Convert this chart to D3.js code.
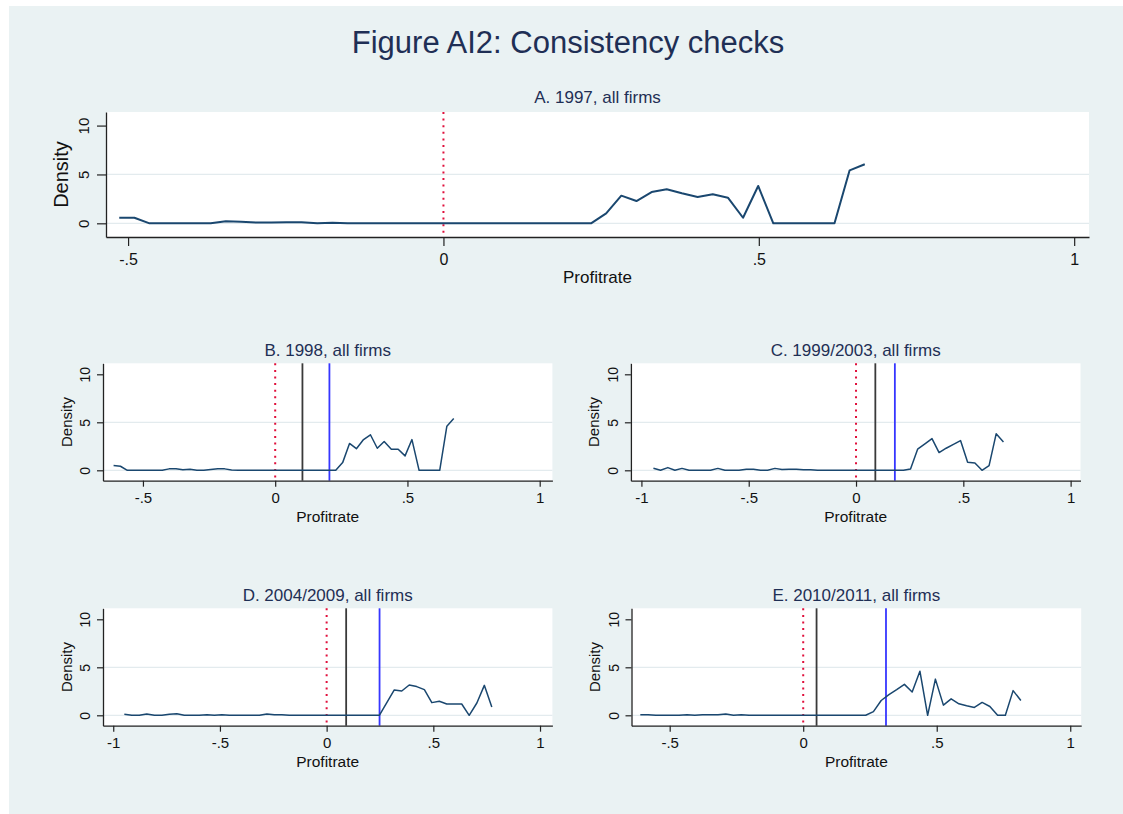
<!DOCTYPE html>
<html>
<head>
<meta charset="utf-8">
<script src="https://cdn.jsdelivr.net/npm/d3@7"></script>
<style>
  html, body { margin: 0; padding: 0; background: #ffffff; }
  svg { display: block; font-family: "Liberation Sans", Arial, Helvetica, sans-serif; }
</style>
</head>
<body>
<svg id="chart" width="1123" height="814"></svg>
<script>
// ---- Panel titles ----
const mainTitle = "Figure AI2: Consistency checks";
const panelTitles = [
  "A. 1997, all firms",
  "B. 1998, all firms",
  "C. 1999/2003, all firms",
  "D. 2004/2009, all firms",
  "E. 2010/2011, all firms"
];

// ---- Tick labels ----
const xTicksA = [-0.5, 0, 0.5, 1];
const xTicksB = [-0.5, 0, 0.5, 1];
const xTicksC = [-1, -0.5, 0, 0.5, 1];
const xTicksD = [-1, -0.5, 0, 0.5, 1];
const xTicksE = [-0.5, 0, 0.5, 1];
const yTicks = [0, 5, 10];

// ---- Density estimates: evaluation points (profit rate) and density ----
const profitA = [-0.514,-0.490,-0.466,-0.442,-0.418,-0.393,-0.369,-0.345,-0.321,-0.297,
  -0.273,-0.249,-0.225,-0.200,-0.176,-0.152,-0.128,-0.104,-0.080,-0.056,
  -0.032,-0.007,0.017,0.041,0.065,0.089,0.113,0.137,0.161,0.185,
  0.210,0.234,0.258,0.282,0.306,0.330,0.354,0.378,0.403,0.427,
  0.451,0.475,0.499,0.523,0.547,0.571,0.596,0.620,0.644,0.668];
const densityA = [0.57,0.57,0,0,0,0,0,0.2,0.15,0.08,
  0.08,0.12,0.12,0,0.07,0,0,0,0,0,
  0,0,0,0,0,0,0,0,0,0,
  0,0,1.02,2.83,2.28,3.2,3.48,3.07,2.69,2.97,
  2.62,0.57,3.82,0,0,0,0,0,5.42,6.04];

const profitB = [-0.611,-0.585,-0.559,-0.532,-0.506,-0.480,-0.454,-0.427,-0.401,-0.375,
  -0.349,-0.322,-0.296,-0.270,-0.244,-0.217,-0.191,-0.165,-0.139,-0.112,
  -0.086,-0.060,-0.034,-0.007,0.019,0.045,0.071,0.098,0.124,0.150,
  0.176,0.202,0.229,0.255,0.281,0.307,0.334,0.360,0.386,0.412,
  0.439,0.465,0.491,0.517,0.544,0.570,0.596,0.622,0.649,0.675];
const densityB = [0.5,0.42,0,0,0,0,0,0,0.15,0.15,
  0.05,0.1,0,0,0.08,0.15,0.15,0.02,0,0,
  0,0,0,0,0,0,0,0,0,0,
  0,0,0,0.8,2.8,2.25,3.2,3.7,2.3,3.0,
  2.2,2.2,1.5,3.2,0,0,0,0,4.6,5.4];

const profitC = [-0.944,-0.911,-0.877,-0.844,-0.811,-0.778,-0.744,-0.711,-0.678,-0.644,
  -0.611,-0.578,-0.545,-0.511,-0.478,-0.445,-0.412,-0.378,-0.345,-0.312,
  -0.278,-0.245,-0.212,-0.179,-0.145,-0.112,-0.079,-0.046,-0.012,0.021,
  0.054,0.088,0.121,0.154,0.187,0.221,0.254,0.287,0.321,0.354,
  0.387,0.420,0.454,0.487,0.520,0.554,0.587,0.620,0.653,0.687];
const densityC = [0.21,0,0.28,0,0.2,0,0,0,0,0.2,
  0,0,0,0.1,0.1,0,0,0.2,0.08,0.12,
  0.12,0.06,0.06,0,0,0,0,0,0,0,
  0,0,0,0,0,0,0.14,2.2,2.75,3.3,
  1.85,2.3,2.7,3.1,0.83,0.76,0,0.49,3.8,2.95];

const profitD = [-0.948,-0.913,-0.878,-0.843,-0.807,-0.772,-0.737,-0.702,-0.667,-0.632,
  -0.597,-0.561,-0.526,-0.491,-0.456,-0.421,-0.386,-0.351,-0.315,-0.280,
  -0.245,-0.210,-0.175,-0.140,-0.105,-0.070,-0.034,0.001,0.036,0.071,
  0.106,0.141,0.176,0.212,0.247,0.282,0.317,0.352,0.387,0.422,
  0.458,0.493,0.528,0.563,0.598,0.633,0.668,0.704,0.739,0.774];
const densityD = [0.1,0,0,0.14,0,0,0.1,0.17,0,0,
  0,0.07,0,0.07,0,0,0,0,0,0.14,
  0.07,0.07,0,0,0,0,0,0,0,0,
  0,0,0,0,0,1.32,2.64,2.53,3.16,2.99,
  2.67,1.32,1.46,1.18,1.18,1.18,0,1.28,3.12,0.87];

const profitE = [-0.610,-0.581,-0.552,-0.523,-0.494,-0.465,-0.435,-0.406,-0.377,-0.348,
  -0.319,-0.290,-0.261,-0.232,-0.203,-0.174,-0.145,-0.115,-0.086,-0.057,
  -0.028,0.001,0.030,0.059,0.088,0.117,0.146,0.175,0.205,0.234,
  0.263,0.292,0.321,0.350,0.379,0.408,0.437,0.466,0.495,0.525,
  0.554,0.583,0.612,0.641,0.670,0.699,0.728,0.757,0.786,0.815];
const densityE = [0.07,0.07,0,0,0,0,0.07,0,0.07,0.07,
  0.07,0.14,0,0.07,0,0,0,0,0,0,
  0,0,0,0,0,0,0,0,0,0,
  0.38,1.54,2.15,2.67,3.22,2.43,4.59,0,3.77,1.06,
  1.71,1.2,0.99,0.82,1.34,0.92,0,0,2.57,1.54];

// ---- Reference lines (profit rate) ----
const zeroLine = 0;
const blackRef = [null, 0.103, 0.090, 0.0915, 0.050];   // panels A..E
const blueRef  = [null, 0.205, 0.181, 0.248, 0.310];

// ---- Colours ----
const colBackground = "#eaf2f3";
const colLine = "#1a476f";
const colTitle = "#1f2f55";
const colGrid = "#e3ebee";

// ---- Layout of each panel ----
const big = {tick: 9, yLabFont: 15, yLabOff: 17.5, densFont: 20, densOff: 38,
             xLabFont: 16, xLabBase: 28, profFont: 17, profBase: 45.5,
             subFont: 17, subOff: 9, lineW: 2};
const small = {tick: 6, yLabFont: 14, yLabOff: 13, densFont: 15, densOff: 31.5,
               xLabFont: 15, xLabBase: 22, profFont: 15.5, profBase: 41,
               subFont: 17, subOff: 7, lineW: 1.5};

const panels = [
  {xs: profitA, ys: densityA, xTicks: xTicksA, box: {l: 106, r: 1089, t: 112, b: 237},
   xDom: [-0.535, 1.0235], yDom: [-1.40, 11.39], st: big},
  {xs: profitB, ys: densityB, xTicks: xTicksB, box: {l: 103, r: 552.4, t: 363.3, b: 480.7},
   xDom: [-0.651, 1.048], yDom: [-1.083, 11.146], st: small},
  {xs: profitC, ys: densityC, xTicks: xTicksC, box: {l: 630.9, r: 1080.5, t: 363.3, b: 480.7},
   xDom: [-1.049, 1.046], yDom: [-1.083, 11.146], st: small},
  {xs: profitD, ys: densityD, xTicks: xTicksD, box: {l: 103, r: 552.4, t: 608.3, b: 725.7},
   xDom: [-1.048, 1.058], yDom: [-1.083, 11.146], st: small},
  {xs: profitE, ys: densityE, xTicks: xTicksE, box: {l: 631.5, r: 1081.2, t: 608.3, b: 725.7},
   xDom: [-0.643, 1.041], yDom: [-1.083, 11.146], st: small}
];

const svg = d3.select("#chart");

// graph region
svg.append("rect").attr("x", 0).attr("y", 0).attr("width", 1123).attr("height", 814).attr("fill", "#ffffff");
svg.append("rect").attr("x", 9).attr("y", 6).attr("width", 1114).attr("height", 808).attr("fill", colBackground);

svg.append("text")
  .attr("x", 568).attr("y", 53)
  .attr("text-anchor", "middle")
  .attr("font-size", 31)
  .attr("fill", colTitle)
  .text(mainTitle);

// Stata-style tick format: -.5, 0, .5, 1
const fmtTick = v => v === 0 ? "0" : String(v).replace("0.", ".");

panels.forEach((p, i) => {
  const st = p.st, b = p.box;
  const x = d3.scaleLinear().domain(p.xDom).range([b.l, b.r]);
  const y = d3.scaleLinear().domain(p.yDom).range([b.b, b.t]);
  const g = svg.append("g");

  // plot region
  g.append("rect").attr("x", b.l).attr("y", b.t)
    .attr("width", b.r - b.l).attr("height", b.b - b.t).attr("fill", "#ffffff");

  // horizontal grid lines
  g.selectAll(".grid").data([0, 5]).enter().append("line")
    .attr("x1", b.l).attr("x2", b.r)
    .attr("y1", d => y(d)).attr("y2", d => y(d))
    .attr("stroke", colGrid).attr("stroke-width", 1.3);

  // vertical reference lines
  g.append("line")
    .attr("x1", x(zeroLine)).attr("x2", x(zeroLine))
    .attr("y1", b.t).attr("y2", b.b)
    .attr("stroke", "#e0103c").attr("stroke-width", 2)
    .attr("stroke-dasharray", "2,4.6");
  if (blackRef[i] !== null) {
    g.append("line")
      .attr("x1", x(blackRef[i])).attr("x2", x(blackRef[i]))
      .attr("y1", b.t).attr("y2", b.b)
      .attr("stroke", "#3a3a3a").attr("stroke-width", 1.8);
  }
  if (blueRef[i] !== null) {
    g.append("line")
      .attr("x1", x(blueRef[i])).attr("x2", x(blueRef[i]))
      .attr("y1", b.t).attr("y2", b.b)
      .attr("stroke", "#3636ff").attr("stroke-width", 1.8);
  }

  // density curve
  const pts = p.xs.map((v, k) => [v, p.ys[k]]);
  g.append("path")
    .datum(pts)
    .attr("fill", "none")
    .attr("stroke", colLine)
    .attr("stroke-width", st.lineW)
    .attr("stroke-linejoin", "round")
    .attr("d", d3.line().x(d => x(d[0])).y(d => y(d[1])));

  // x axis
  const gx = g.append("g").attr("transform", `translate(0,${b.b})`)
    .call(d3.axisBottom(x).tickValues(p.xTicks).tickFormat(fmtTick)
      .tickSize(st.tick).tickSizeOuter(0));
  gx.select(".domain").attr("stroke", "#222").attr("stroke-width", 1.3);
  gx.selectAll(".tick line").attr("stroke", "#222").attr("stroke-width", 1.2);
  gx.selectAll(".tick text")
    .attr("y", st.xLabBase).attr("dy", null)
    .attr("font-size", st.xLabFont).attr("font-family", null)
    .attr("fill", "#111");

  // y axis
  const gy = g.append("g").attr("transform", `translate(${b.l},0)`)
    .call(d3.axisLeft(y).tickValues(yTicks).tickFormat(d3.format("d"))
      .tickSize(st.tick).tickSizeOuter(0));
  gy.select(".domain").attr("stroke", "#222").attr("stroke-width", 1.3);
  gy.selectAll(".tick line").attr("stroke", "#222").attr("stroke-width", 1.2);
  gy.selectAll(".tick text")
    .attr("x", null).attr("dy", null)
    .attr("text-anchor", "middle")
    .attr("transform", `translate(${-st.yLabOff},0) rotate(-90)`)
    .attr("font-size", st.yLabFont).attr("font-family", null)
    .attr("fill", "#111");

  // axis titles
  g.append("text")
    .attr("transform", `translate(${b.l - st.densOff},${(b.t + b.b) / 2}) rotate(-90)`)
    .attr("text-anchor", "middle")
    .attr("font-size", st.densFont).attr("fill", "#111")
    .text("Density");
  g.append("text")
    .attr("x", (b.l + b.r) / 2).attr("y", b.b + st.profBase)
    .attr("text-anchor", "middle")
    .attr("font-size", st.profFont).attr("fill", "#111")
    .text("Profitrate");

  // panel title
  g.append("text")
    .attr("x", (b.l + b.r) / 2).attr("y", b.t - st.subOff)
    .attr("text-anchor", "middle")
    .attr("font-size", st.subFont).attr("fill", colTitle)
    .text(panelTitles[i]);
});
</script>
</body>
</html>
